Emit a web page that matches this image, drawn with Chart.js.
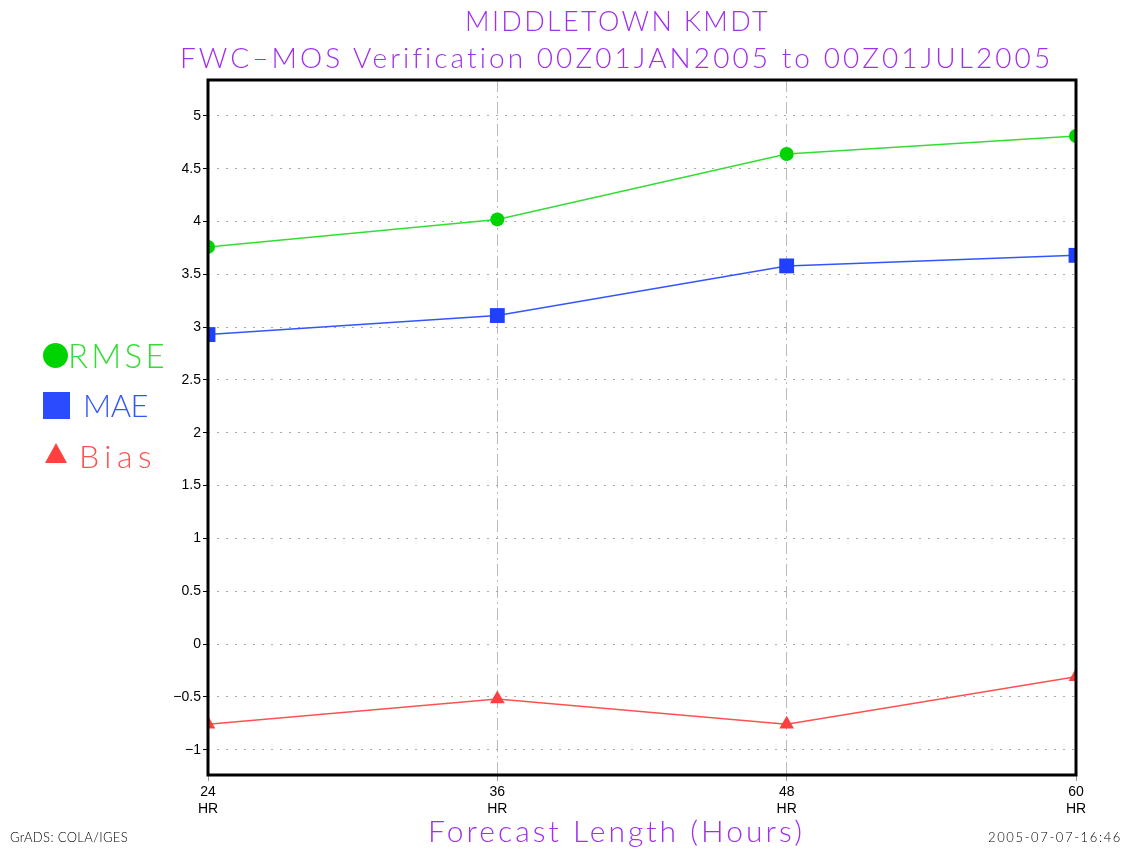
<!DOCTYPE html>
<html>
<head>
<meta charset="utf-8">
<script src="https://cdn.jsdelivr.net/npm/chart.js@4/dist/chart.umd.min.js"></script>
<style>
body{margin:0;background:#fff;}
#wrap{position:relative;width:1124px;height:849px;overflow:hidden;}
#wrap canvas{position:absolute;left:0;top:0;}
.t{position:absolute;white-space:nowrap;font-family:Lato,"Liberation Sans",sans-serif;font-weight:300;line-height:1;}
.purple{color:#a030f0;}
.mk{position:absolute;}
</style>
</head>
<body>
<div id="wrap">
<canvas id="c" width="1124" height="849"></canvas>
<div class="t purple fit" data-w="305" style="left:465px;top:7px;font-size:27px">MIDDLETOWN KMDT</div>
<div class="t purple fit" data-w="873" style="left:180px;top:43px;font-size:28px">FWC–MOS Verification 00Z01JAN2005 to 00Z01JUL2005</div>
<div class="t purple fit" data-w="377" style="left:428px;top:815px;font-size:30px">Forecast Length (Hours)</div>
<div class="t fit" data-w="118" style="left:10px;top:831px;font-size:13px;color:#000">GrADS: COLA/IGES</div>
<div class="t fit" data-w="134" style="left:988px;top:831px;font-size:13px;color:#000">2005-07-07-16:46</div>

<div class="mk" style="left:43px;top:343px;width:25px;height:25px;border-radius:50%;background:#00d400"></div>
<div class="t fit" data-w="100" style="left:68px;top:339px;font-size:33px;color:#33dd33">RMSE</div>
<div class="mk" style="left:43px;top:392px;width:27px;height:27px;background:#2a4bff"></div>
<div class="t fit" data-w="65" style="left:83px;top:390px;font-size:31px;color:#3355ff">MAE</div>
<div class="mk" style="left:45px;top:443px;width:0;height:0;border-left:11px solid transparent;border-right:11px solid transparent;border-bottom:20px solid #ff4040"></div>
<div class="t fit" data-w="78" style="left:79px;top:440px;font-size:32px;color:#ff5050">Bias</div>
</div>
<script>
const forecastHours = [24, 36, 48, 60];
const rmse = [3.76, 4.02, 4.64, 4.81];
const mae  = [2.93, 3.11, 3.58, 3.68];
const bias = [-0.76, -0.52, -0.76, -0.31];
const yMin = -1.24, yMax = 5.34;

// stretch texts to the widths seen in the picture
document.querySelectorAll('.fit').forEach(el=>{
  const n=el.textContent.length;
  const w=el.getBoundingClientRect().width;
  el.style.letterSpacing=((+el.dataset.w-w)/n)+'px';
});

const pts=arr=>forecastHours.map((h,i)=>({x:h,y:arr[i]}));

const frame={
  id:'frame',
  afterDatasetsDraw(chart){
    const a=chart.chartArea, ctx=chart.ctx;
    ctx.save();
    ctx.strokeStyle='#000';ctx.lineWidth=3;
    ctx.strokeRect(a.left,a.top,a.right-a.left,a.bottom-a.top);
    ctx.restore();
  }
};

new Chart(document.getElementById('c'),{
  type:'line',
  data:{datasets:[
    {label:'RMSE',data:pts(rmse),borderColor:'#33dd33',backgroundColor:'#00d400',borderWidth:1.5,pointStyle:'circle',pointRadius:7,pointBorderWidth:0},
    {label:'MAE',data:pts(mae),borderColor:'#3355ff',backgroundColor:'#1f40ff',borderWidth:1.5,pointStyle:'rect',pointRadius:10.5,pointBorderWidth:0},
    {label:'Bias',data:pts(bias),borderColor:'#ff5050',backgroundColor:'#ff4040',borderWidth:1.5,pointStyle:'triangle',pointRadius:8.5,pointBorderWidth:0}
  ]},
  options:{
    responsive:false,animation:false,
    layout:{padding:{left:148,right:48,top:80,bottom:24}},
    plugins:{legend:{display:false},tooltip:{enabled:false}},
    scales:{
      x:{type:'linear',min:24,max:60,
        afterFit(s){s.height=50;},
        border:{display:false,dash:[12,4,2,4]},
        grid:{color:'#bbb',lineWidth:1,tickLength:6,tickColor:'#999'},
        ticks:{stepSize:12,padding:3,color:'#000',font:{family:'Liberation Sans',size:14},
          callback:v=>[String(v),'HR']}
      },
      y:{type:'linear',min:yMin,max:yMax,
        afterFit(s){s.width=60;},
        border:{display:false,dash:[2,7]},
        grid:{color:'#aaa',lineWidth:1,tickLength:5,tickColor:'#000'},
        ticks:{stepSize:0.5,includeBounds:false,padding:2,color:'#000',font:{family:'Liberation Sans',size:14},
          callback:v=>String(Number(v.toFixed(1))).replace('-','\u2212')}
      }
    }
  },
  plugins:[frame]
});
</script>
</body>
</html>
